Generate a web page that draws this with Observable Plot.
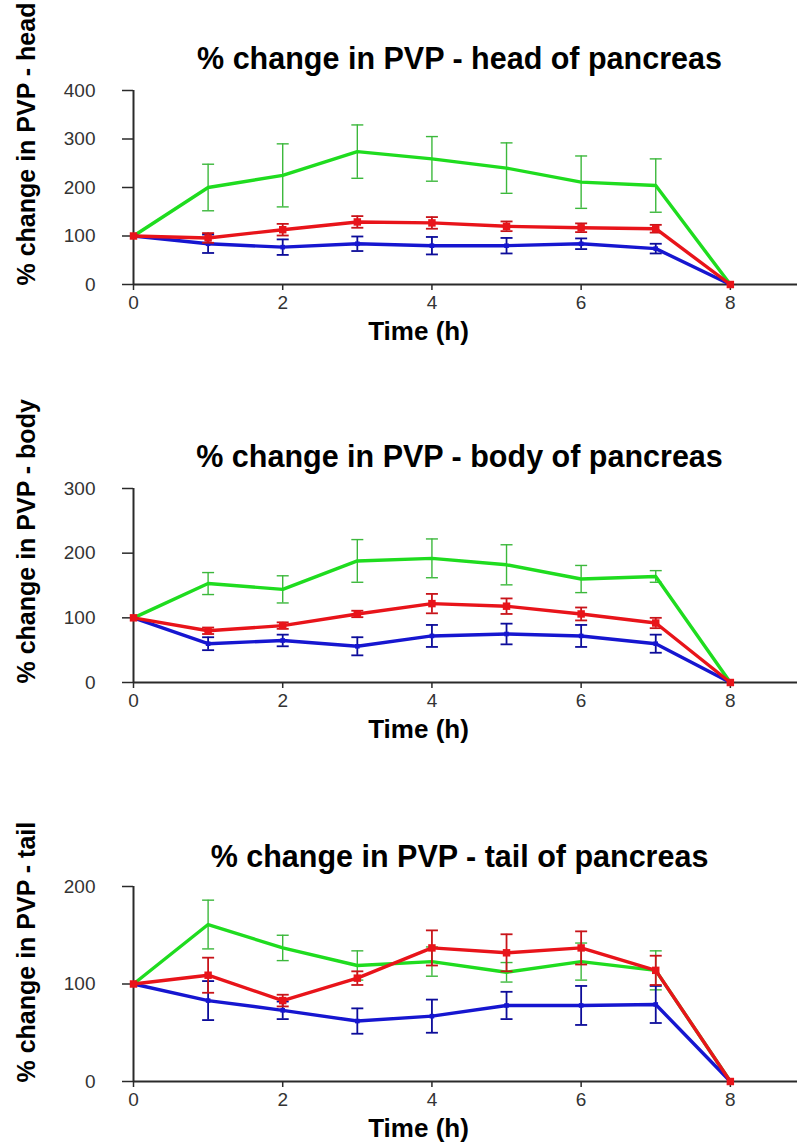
<!DOCTYPE html>
<html>
<head>
<meta charset="utf-8">
<script src="https://cdn.jsdelivr.net/npm/d3@7"></script>
<script src="https://cdn.jsdelivr.net/npm/@observablehq/plot@0.6"></script>
<style>
  html, body { margin: 0; padding: 0; background: #fff; }
  #chart { width: 798px; }
  #chart svg { display: block; }
</style>
</head>
<body>
<div id="chart"></div>
<script>
// ---- data ----
const times = [0, 1, 2, 3, 4, 5, 6, 7, 8];
const xTicks = [0, 2, 4, 6, 8];

const headTitle = "% change in PVP - head of pancreas";
const headYLabel = "% change in PVP - head";
const headYTicks = [0, 100, 200, 300, 400];
const headGreen = [100, 200, 225, 274, 259, 240, 211, 204, 0];
const headGreenErr = [0, 48, 65, 55, 46, 52, 54, 55, 0];
const headRed = [100, 96, 113, 129, 127, 120, 117, 115, 0];
const headRedErr = [0, 10, 12, 12, 12, 10, 9, 8, 0];
const headBlue = [100, 84, 77, 84, 80, 80, 84, 74, 0];
const headBlueErr = [0, 19, 16, 15, 18, 16, 11, 10, 0];

const bodyTitle = "% change in PVP - body of pancreas";
const bodyYLabel = "% change in PVP - body";
const bodyYTicks = [0, 100, 200, 300];
const bodyGreen = [100, 153, 144, 188, 192, 182, 160, 164, 0];
const bodyGreenErr = [0, 17, 21, 33, 30, 31, 21, 9, 0];
const bodyRed = [100, 80, 88, 106, 122, 118, 106, 92, 0];
const bodyRedErr = [0, 5, 5, 5, 15, 12, 10, 8, 0];
const bodyBlue = [100, 60, 65, 56, 72, 75, 72, 60, 0];
const bodyBlueErr = [0, 10, 9, 14, 17, 16, 17, 14, 0];

const tailTitle = "% change in PVP - tail of pancreas";
const tailYLabel = "% change in PVP - tail";
const tailYTicks = [0, 100, 200];
const tailGreen = [100, 161, 137, 119, 123, 112, 123, 114, 0];
const tailGreenErr = [0, 25, 13, 15, 15, 10, 19, 20, 0];
const tailRed = [100, 109, 83, 106, 137, 132, 137, 114, 0];
const tailRedErr = [0, 18, 6, 7, 18, 19, 17, 15, 0];
const tailBlue = [100, 83, 73, 62, 67, 78, 78, 79, 0];
const tailBlueErr = [0, 20, 9, 13, 17, 14, 20, 19, 0];

const xLabel = "Time (h)";

// ---- styling ----
const FONT = "'Liberation Sans', Arial, sans-serif";
const colors = {
  green: { line: "#1fdc1f", err: "#3cb83c" },
  red:   { line: "#e8141a", err: "#c8141a" },
  blue:  { line: "#1616d0", err: "#0c0c9a" }
};

// horizontal cap symbol for error bars (pixel sized)
const capSymbol = {
  draw(ctx, size) {
    const w = Math.sqrt(size / Math.PI);
    ctx.moveTo(-w, 0);
    ctx.lineTo(w, 0);
  }
};

function rows(series, vals, errs) {
  return times.map((t, i) => ({ t, v: vals[i], e: errs[i], series }));
}

function panel(cfg) {
  const seriesData = {
    green: rows("green", cfg.green, cfg.greenErr),
    blue: rows("blue", cfg.blue, cfg.blueErr),
    red: rows("red", cfg.red, cfg.redErr)
  };
  const order = ["green", "blue", "red"];
  const marks = [];
  marks.push(Plot.ruleY([0], { stroke: "#2a2a2a", strokeWidth: 2 }));
  marks.push(Plot.ruleX([0], { stroke: "#2a2a2a", strokeWidth: 2 }));
  marks.push(Plot.axisY({
    ticks: cfg.yTicks, tickSize: 11, tickPadding: 27, fontSize: 19,
    label: null, stroke: "#2a2a2a", strokeWidth: 1.5, fill: "#333", tickFormat: d => String(d)
  }));
  marks.push(Plot.axisX({
    ticks: xTicks, tickSize: 6, tickPadding: 5, fontSize: 19,
    label: null, stroke: "#2a2a2a", strokeWidth: 1.5, fill: "#333", tickFormat: d => String(d)
  }));
  for (const s of order) {
    const d = seriesData[s];
    const withErr = d.filter(r => r.e > 0);
    const c = colors[s];
    const ew = s === "green" ? 1.4 : 1.8;
    marks.push(Plot.ruleX(withErr, { x: "t", y1: r => r.v - r.e, y2: r => r.v + r.e, stroke: c.err, strokeWidth: ew }));
    marks.push(Plot.dot(withErr, { x: "t", y: r => r.v + r.e, symbol: capSymbol, r: 6, stroke: c.err, strokeWidth: ew, fill: "none" }));
    marks.push(Plot.dot(withErr, { x: "t", y: r => r.v - r.e, symbol: capSymbol, r: 6, stroke: c.err, strokeWidth: ew, fill: "none" }));
    marks.push(Plot.line(d, { x: "t", y: "v", stroke: c.line, strokeWidth: 3.4, strokeLinejoin: "round" }));
    if (s === "red") {
      marks.push(Plot.dot(d, { x: "t", y: "v", symbol: "square", r: 4.2, fill: c.line, stroke: "none" }));
    }
    if (s === "blue") {
      marks.push(Plot.dot(d, { x: "t", y: "v", symbol: "square", r: 2.6, fill: c.line, stroke: "none" }));
    }
  }
  marks.push(Plot.text([cfg.title], {
    text: d => d, frameAnchor: "top", lineAnchor: "bottom", dy: cfg.titleDy, dx: -6,
    fontSize: 30.5, fontWeight: "bold", fill: "#000"
  }));
  marks.push(Plot.text([cfg.yLabel], {
    text: d => d, frameAnchor: "bottom-left", rotate: -90, textAnchor: "start", lineAnchor: "middle",
    dx: -107, dy: 1, fontSize: 25, fontWeight: "bold", fill: "#000"
  }));
  marks.push(Plot.text([xLabel], {
    text: d => d, frameAnchor: "bottom", lineAnchor: "middle", dx: -47, dy: 47,
    fontSize: 26, fontWeight: "bold", fill: "#000"
  }));

  return Plot.plot({
    width: 798,
    height: cfg.height,
    marginLeft: 133,
    marginRight: 1,
    marginTop: cfg.marginTop,
    marginBottom: cfg.marginBottom,
    style: { fontFamily: FONT, background: "#fff", overflow: "visible" },
    x: { domain: [0, 8.9] },
    y: { domain: [0, cfg.yTicks[cfg.yTicks.length - 1]] },
    marks
  });
}

const chart = document.getElementById("chart");
chart.append(panel({
  title: headTitle, yLabel: headYLabel, yTicks: headYTicks,
  green: headGreen, greenErr: headGreenErr, red: headRed, redErr: headRedErr, blue: headBlue, blueErr: headBlueErr,
  height: 390, marginTop: 90, marginBottom: 106, titleDy: -22
}));
chart.append(panel({
  title: bodyTitle, yLabel: bodyYLabel, yTicks: bodyYTicks,
  green: bodyGreen, greenErr: bodyGreenErr, red: bodyRed, redErr: bodyRedErr, blue: bodyBlue, blueErr: bodyBlueErr,
  height: 390, marginTop: 98, marginBottom: 98, titleDy: -22
}));
chart.append(panel({
  title: tailTitle, yLabel: tailYLabel, yTicks: tailYTicks,
  green: tailGreen, greenErr: tailGreenErr, red: tailRed, redErr: tailRedErr, blue: tailBlue, blueErr: tailBlueErr,
  height: 362, marginTop: 106, marginBottom: 61, titleDy: -20
}));
</script>
</body>
</html>
